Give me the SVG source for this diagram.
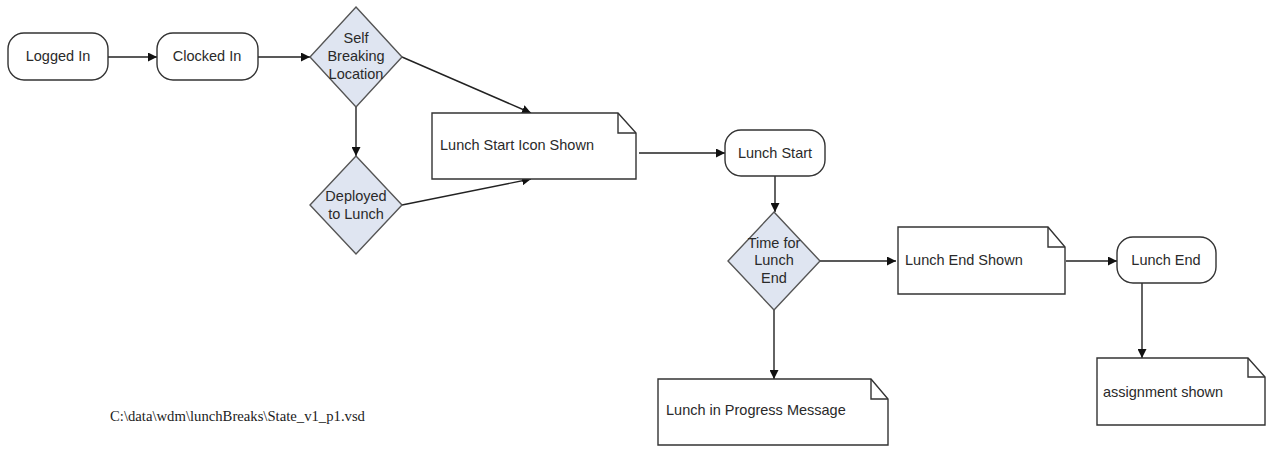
<svg xmlns="http://www.w3.org/2000/svg" width="1275" height="449" viewBox="0 0 1275 449">
  <defs>
    <marker id="arrow" viewBox="0 0 10 10" refX="10" refY="5" markerWidth="9" markerHeight="9" markerUnits="userSpaceOnUse" orient="auto">
      <path d="M0,0 L10,5 L0,10 Z" fill="#111"/>
    </marker>
  </defs>
  <style>
    .state { fill: #ffffff; stroke: #333333; stroke-width: 1.4; }
    .decision { fill: #dfe5f1; stroke: #555555; stroke-width: 1.4; }
    .doc { fill: #ffffff; stroke: #333333; stroke-width: 1.4; }
    .fold { fill: none; stroke: #333333; stroke-width: 1.4; }
    .lbl { font-family: "Liberation Sans", Arial, sans-serif; font-size: 14.5px; fill: #2a2a2a; }
    .mid { text-anchor: middle; }
    .edge { fill: none; stroke: #222222; stroke-width: 1.4; marker-end: url(#arrow); }
    .path-note { font-family: "Liberation Serif", "Times New Roman", serif; font-size: 14.7px; fill: #222222; }
  </style>
  <rect width="1275" height="449" fill="#ffffff"/>

  <!-- connectors -->
  <g id="connectors">
    <line class="edge" x1="108" y1="57" x2="157" y2="57"/>
    <line class="edge" x1="258" y1="57" x2="310" y2="57"/>
    <line class="edge" x1="356" y1="107" x2="356" y2="156"/>
    <line class="edge" x1="402" y1="57" x2="531" y2="113"/>
    <line class="edge" x1="402" y1="205" x2="531" y2="179"/>
    <line class="edge" x1="639" y1="153" x2="725" y2="153"/>
    <line class="edge" x1="775" y1="176" x2="775" y2="212"/>
    <line class="edge" x1="820" y1="261" x2="896" y2="261"/>
    <line class="edge" x1="1066" y1="261" x2="1117" y2="261"/>
    <line class="edge" x1="1142" y1="283" x2="1142" y2="358"/>
    <line class="edge" x1="774" y1="310" x2="774" y2="379"/>
  </g>

  <!-- states -->
  <g id="logged-in">
    <rect class="state" x="8" y="33" width="100" height="47" rx="16"/>
    <text class="lbl mid" x="58" y="61">Logged In</text>
  </g>
  <g id="clocked-in">
    <rect class="state" x="157" y="33" width="101" height="47" rx="16"/>
    <text class="lbl mid" x="207" y="61">Clocked In</text>
  </g>
  <g id="lunch-start">
    <rect class="state" x="725" y="130" width="100" height="46" rx="16"/>
    <text class="lbl mid" x="775" y="158">Lunch Start</text>
  </g>
  <g id="lunch-end">
    <rect class="state" x="1117" y="237" width="99" height="46" rx="16"/>
    <text class="lbl mid" x="1166" y="265">Lunch End</text>
  </g>

  <!-- decisions -->
  <g id="self-breaking">
    <polygon class="decision" points="356,7 402,57 356,107 310,57"/>
    <text class="lbl mid" x="356" y="43">Self</text>
    <text class="lbl mid" x="356" y="61">Breaking</text>
    <text class="lbl mid" x="356" y="79">Location</text>
  </g>
  <g id="deployed">
    <polygon class="decision" points="356,156 402,205 356,254 310,205"/>
    <text class="lbl mid" x="356" y="201">Deployed</text>
    <text class="lbl mid" x="356" y="219">to Lunch</text>
  </g>
  <g id="time-for-lunch-end">
    <polygon class="decision" points="774,212 820,261 774,310 728,261"/>
    <text class="lbl mid" x="774" y="248">Time for</text>
    <text class="lbl mid" x="774" y="265">Lunch</text>
    <text class="lbl mid" x="774" y="283">End</text>
  </g>

  <!-- documents -->
  <g id="lunch-start-icon">
    <path class="doc" d="M432,113 H618 L636,133 V179 H432 Z"/>
    <path class="fold" d="M618,113 V133 H636"/>
    <text class="lbl" x="440" y="150">Lunch Start Icon Shown</text>
  </g>
  <g id="lunch-end-shown">
    <path class="doc" d="M898,227 H1048 L1065,247 V294 H898 Z"/>
    <path class="fold" d="M1048,227 V247 H1065"/>
    <text class="lbl" x="905" y="265">Lunch End Shown</text>
  </g>
  <g id="lunch-in-progress">
    <path class="doc" d="M658,379 H871 L888,399 V445 H658 Z"/>
    <path class="fold" d="M871,379 V399 H888"/>
    <text class="lbl" x="666" y="415">Lunch in Progress Message</text>
  </g>
  <g id="assignment-shown">
    <path class="doc" d="M1097,358 H1248 L1265,377 V425 H1097 Z"/>
    <path class="fold" d="M1248,358 V377 H1265"/>
    <text class="lbl" x="1103" y="397">assignment shown</text>
  </g>

  <text class="path-note" x="110" y="421">C:\data\wdm\lunchBreaks\State_v1_p1.vsd</text>
</svg>
